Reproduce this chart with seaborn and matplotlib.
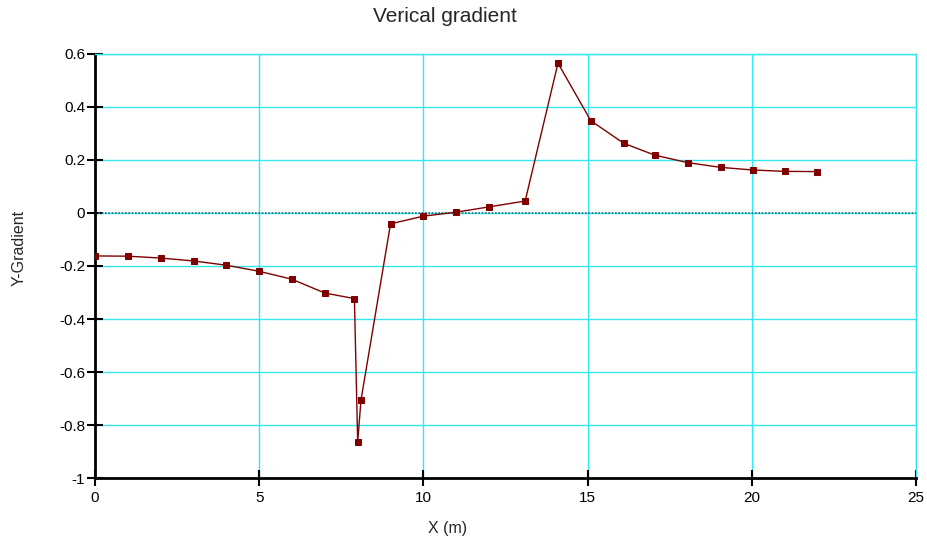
import numpy as np
import pandas as pd
import seaborn as sns
import matplotlib.pyplot as plt

# values
x_m = [0, 1, 2, 3, 4, 5, 6, 7, 7.9, 8.0, 8.1, 9, 10, 11, 12, 13.1, 14.1,
       15.1, 16.1, 17.05, 18.05, 19.05, 20.05, 21.0, 22.0]
y_grad = [-0.162, -0.163, -0.170, -0.181, -0.197, -0.220, -0.250, -0.302, -0.323,
          -0.864, -0.706, -0.041, -0.012, 0.003, 0.023, 0.045, 0.565,
          0.348, 0.263, 0.218, 0.190, 0.172, 0.162, 0.157, 0.156]

df = pd.DataFrame({'X': x_m, 'Y': y_grad})

sns.set_style('white')
plt.rcParams['font.family'] = ['Liberation Sans', 'DejaVu Sans']

fig = plt.figure(figsize=(9.27, 5.39), dpi=100)
ax = fig.add_axes([0.1025, 0.113, 0.8855, 0.787])

# grid
ax.set_xticks([0, 5, 10, 15, 20, 25])
ax.set_yticks([-1, -0.8, -0.6, -0.4, -0.2, 0, 0.2, 0.4, 0.6])
ax.set_yticklabels(['-1', '-0.8', '-0.6', '-0.4', '-0.2', '0', '0.2', '0.4', '0.6'])
ax.grid(True, color='#33e6f0', linewidth=1.0)
ax.set_axisbelow(True)
ax.axhline(0, color='#2a6f70', linewidth=1.2, linestyle=(0, (1, 1)), zorder=1.5)

sns.lineplot(data=df, x='X', y='Y', ax=ax, color='#800000', linewidth=1.0,
             marker='s', markersize=4.5, markeredgecolor='#800000', zorder=3)

ax.set_xlim(0, 25)
ax.set_ylim(-1, 0.6)

for s in ['top', 'right']:
    ax.spines[s].set_color('#33e6f0')
    ax.spines[s].set_linewidth(1.0)
for s in ['left', 'bottom']:
    ax.spines[s].set_color('black')
    ax.spines[s].set_linewidth(2.0)

ax.tick_params(axis='both', bottom=True, left=True, direction='inout',
               length=12, width=1.5, colors='black', labelsize=11)
ax.tick_params(axis='x', pad=3)
ax.tick_params(axis='y', pad=1)

ax.set_xlabel('')
ax.set_ylabel('')
fig.text(373 / 927, 0.97, 'Verical gradient', fontsize=15, ha='left', va='center')
fig.text(0.483, 0.0204, 'X (m)', fontsize=11.5, ha='center', va='center')
fig.text(19 / 927, 0.54, 'Y-Gradient', fontsize=11.5, ha='center', va='center',
         rotation=90)

fig.savefig('out.png', dpi=100)
